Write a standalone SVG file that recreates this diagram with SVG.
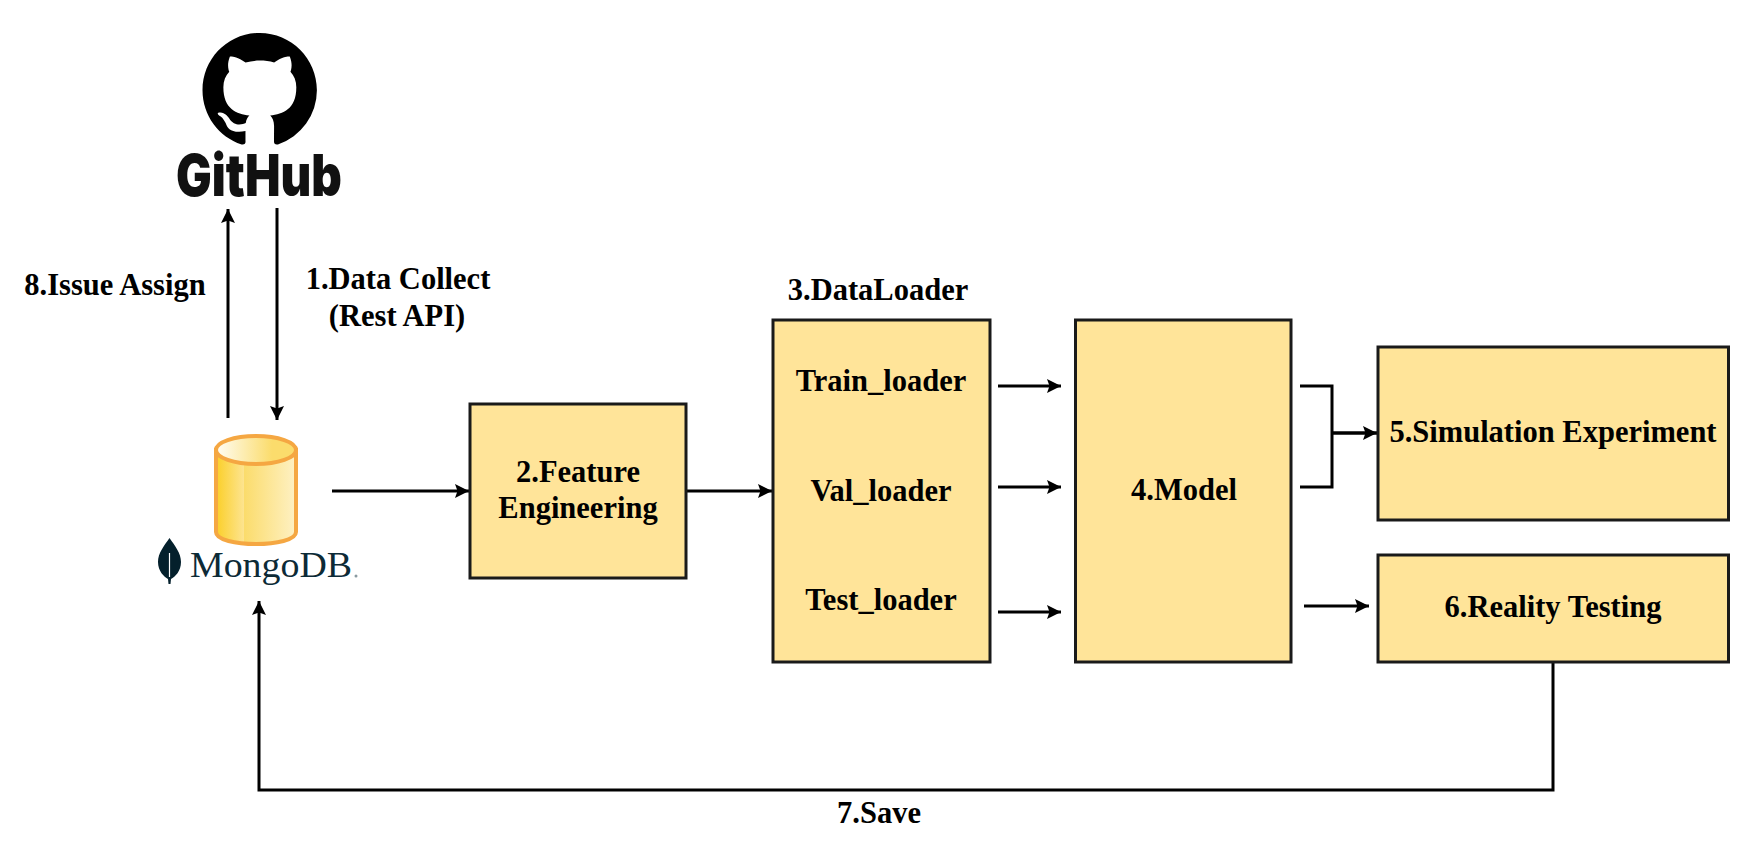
<svg xmlns="http://www.w3.org/2000/svg" width="1760" height="847" viewBox="0 0 1760 847">
<style>
text{font-family:"Liberation Serif","Times New Roman",serif;font-weight:700;font-size:30.5px;fill:#000;text-anchor:middle}
.box{fill:#ffe499;stroke:#1a1a1a;stroke-width:3}
.c{fill:none;stroke:#000;stroke-width:3}
.a{marker-end:url(#ah)}
</style>
<defs>
<marker id="ah" markerUnits="userSpaceOnUse" markerWidth="15" markerHeight="16" refX="14" refY="8" orient="auto"><path d="M0 1L14 8L0 15L2.500 8Z" fill="#000"/></marker>
<linearGradient id="g1" x1="0" x2="1" y1="0" y2="0"><stop offset="0" stop-color="#fbcf28"/><stop offset=".35" stop-color="#fde490"/><stop offset=".355" stop-color="#fbdc6c"/><stop offset="1" stop-color="#fef1c4"/></linearGradient>
<linearGradient id="g2" x1="0" x2="1" y1="0" y2="0"><stop offset="0" stop-color="#fffdf5"/><stop offset=".7" stop-color="#fbdc6c"/><stop offset="1" stop-color="#fbdc6c"/></linearGradient>
</defs>
<g id="connectors">
<path class="c a" d="M228 418V209"/>
<path class="c a" d="M277 208V420"/>
<path class="c a" d="M332 491H469"/>
<path class="c a" d="M686 491H772"/>
<path class="c a" d="M998 386H1061"/>
<path class="c a" d="M998 487H1061"/>
<path class="c a" d="M998 612H1061"/>
<path class="c" d="M1300 386H1332V487H1300"/>
<path class="c a" style="stroke-width:3.500" d="M1332 433H1377"/>
<path class="c a" d="M1304 606H1369"/>
<path class="c a" d="M1553 662V790H259V601"/>
</g>
<g id="github">
<path transform="translate(202.5 33) scale(7.15)" fill="#000" d="M8 0C3.58 0 0 3.58 0 8c0 3.54 2.29 6.53 5.47 7.59.4.07.55-.17.55-.38 0-.19-.01-.82-.01-1.49-2.01.37-2.53-.49-2.69-.94-.09-.23-.48-.94-.82-1.13-.28-.15-.68-.52-.01-.53.63-.01 1.08.58 1.23.82.72 1.21 1.87.87 2.33.66.07-.52.28-.87.51-1.07-1.78-.2-3.64-.89-3.64-3.95 0-.87.31-1.59.82-2.15-.08-.2-.36-1.02.08-2.12 0 0 .67-.21 2.2.82.64-.18 1.32-.27 2-.27.68 0 1.36.09 2 .27 1.53-1.04 2.2-.82 2.2-.82.44 1.1.16 1.92.08 2.12.51.56.82 1.27.82 2.15 0 3.07-1.87 3.75-3.65 3.95.29.25.54.73.54 1.48 0 1.07-.01 1.93-.01 2.2 0 .21.15.46.55.38A8.013 8.013 0 0016 8c0-4.42-3.58-8-8-8z"/>
<text x="259" y="196" textLength="166" lengthAdjust="spacingAndGlyphs" style="font-family:'Inter','Noto Sans',sans-serif;font-weight:900;font-size:58px;fill:#111">GitHub</text>
</g>
<g id="mongodb">
<path d="M216 450V532C216 540 236 544 256 544S296 540 296 532V450Z" fill="url(#g1)" stroke="#f5a742" stroke-width="4"/>
<ellipse cx="256" cy="450" rx="40" ry="14" fill="url(#g2)" stroke="#f5a742" stroke-width="4"/>
<path d="M169.500 538C175 546 181 553 181 562C181 571 175 577 171 579L170.500 584H168.500L168 579C164 577 158 571 158 562C158 553 164 546 169.500 538Z" fill="#04202c"/>
<path d="M169.500 553V577" stroke="#fff" stroke-width="1.200"/>
<text x="190" y="577" textLength="162" lengthAdjust="spacingAndGlyphs" style="font-weight:400;font-size:35px;fill:#0c2a36;text-anchor:start">MongoDB</text>
<circle cx="356" cy="576" r="1.500" fill="#8a9aa0"/>
</g>
<g id="node2"><rect class="box" x="470" y="404" width="216" height="174"/><text x="578" y="482">2.Feature</text><text x="578" y="518">Engineering</text></g>
<g id="node3"><rect class="box" x="773" y="320" width="217" height="342"/><text x="881" y="391">Train_loader</text><text x="881" y="501">Val_loader</text><text x="881" y="610">Test_loader</text></g>
<g id="node4"><rect class="box" x="1075.500" y="320" width="215.500" height="342"/><text x="1184" y="500">4.Model</text></g>
<g id="node5"><rect class="box" x="1378" y="347" width="350.500" height="173"/><text x="1553" y="442">5.Simulation Experiment</text></g>
<g id="node6"><rect class="box" x="1378" y="555" width="350.500" height="107"/><text x="1553" y="617">6.Reality Testing</text></g>
<g id="labels">
<text x="115" y="295">8.Issue Assign</text>
<text x="398" y="289">1.Data Collect</text>
<text x="397" y="326">(Rest API)</text>
<text x="878" y="300">3.DataLoader</text>
<text x="879" y="823">7.Save</text>
</g>
</svg>
